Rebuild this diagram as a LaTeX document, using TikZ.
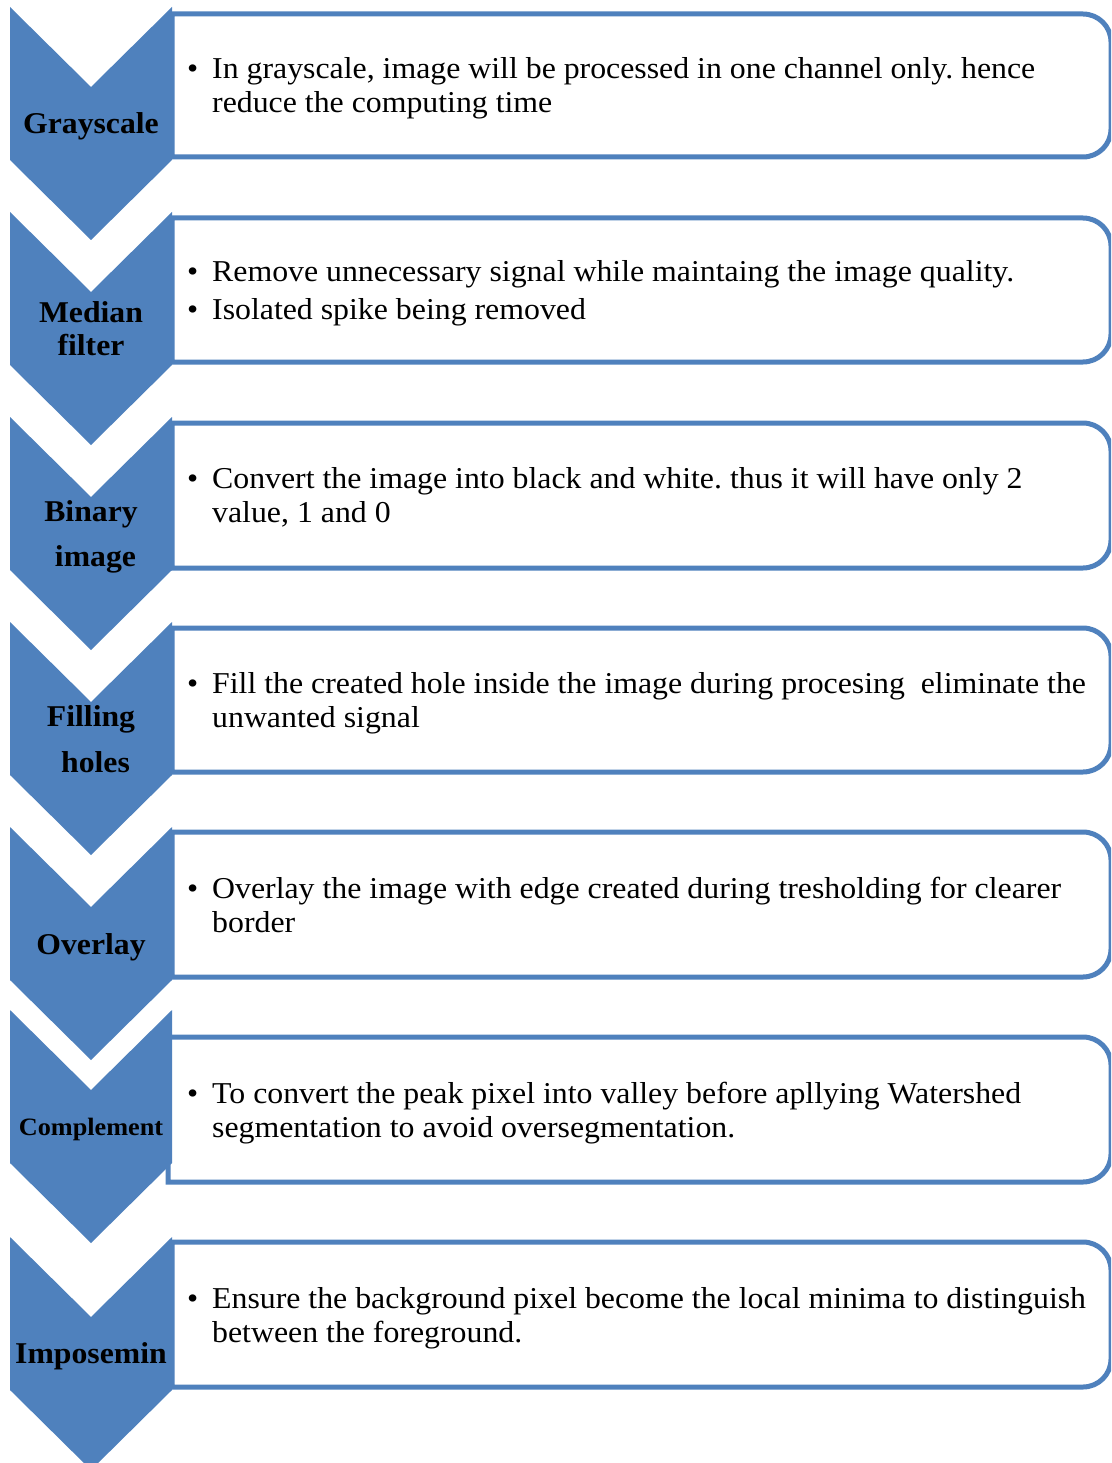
\documentclass[tikz,border=0pt]{standalone}
\usepackage{fontspec}
\setmainfont{Liberation Serif}[FakeStretch=1.05]
\definecolor{STEP-BLUE}{RGB}{79, 129, 189}
\newcommand{\bitem}{\makebox[25pt][l]{\textbullet}}
\newcommand{\bskip}{\hspace*{25pt}}
\frenchspacing

\begin{document}
\begin{tikzpicture}[x=1pt, y=-1pt,
    chevron/.style={fill=STEP-BLUE},
    stepbox/.style={draw=STEP-BLUE, line width=5pt, fill=white},
    steplabel/.style={font=\fontsize{30.2}{33}\selectfont\bfseries, align=center, inner sep=0pt},
    steptext/.style={font=\fontsize{30.3}{34}\selectfont, align=left, anchor=north west, inner sep=0pt}]
  \useasboundingbox (0,0) rectangle (1111,1463);
  \clip (0,0) rectangle (1111,1463);

  % Step 1: grayscale
  \draw[stepbox] (172,157) -- (172,14) -- (1083,14) arc[start angle=-90, end angle=0, radius=28]
    -- (1111,129) arc[start angle=0, end angle=90, radius=28] -- cycle;
  \fill[chevron] (10,7) -- (91,87) -- (172,7) -- (172,160) -- (91,240) -- (10,160) -- cycle;
  \node[steplabel] (grayscale) at (91,126) {Grayscale};
  \node[steptext] (grayscale-txt) at (187,57)
    {\bitem In grayscale, image will be processed in one channel only. hence\\
     \bskip reduce the computing time};

  % Step 2: median filter
  \draw[stepbox] (172,362) -- (172,218) -- (1083,218) arc[start angle=-90, end angle=0, radius=28]
    -- (1111,334) arc[start angle=0, end angle=90, radius=28] -- cycle;
  \fill[chevron] (10,212) -- (91,292) -- (172,212) -- (172,365) -- (91,445) -- (10,365) -- cycle;
  \node[steplabel] (median) at (91,329) {Median\\filter};
  \node[steptext] (median-txt) at (187,260)
    {\bitem Remove unnecessary signal while maintaing the image quality.\\[4pt]
     \bitem Isolated spike being removed};

  % Step 3: binary image
  \draw[stepbox] (172,568) -- (172,423) -- (1083,423) arc[start angle=-90, end angle=0, radius=28]
    -- (1111,540) arc[start angle=0, end angle=90, radius=28] -- cycle;
  \fill[chevron] (10,417) -- (91,497) -- (172,417) -- (172,570) -- (91,650) -- (10,570) -- cycle;
  \node[steplabel] (binary) at (91,537) {Binary\\[12.5pt]\hspace*{9pt}image};
  \node[steptext] (binary-txt) at (187,467)
    {\bitem Convert the image into black and white. thus it will have only 2\\
     \bskip value, 1 and 0};

  % Step 4: filling holes
  \draw[stepbox] (172,772) -- (172,628) -- (1083,628) arc[start angle=-90, end angle=0, radius=28]
    -- (1111,744) arc[start angle=0, end angle=90, radius=28] -- cycle;
  \fill[chevron] (10,622) -- (91,702) -- (172,622) -- (172,775) -- (91,855) -- (10,775) -- cycle;
  \node[steplabel] (filling) at (91,739) {Filling\\[12.5pt]\hspace*{9pt}holes};
  \node[steptext] (filling-txt) at (187,672)
    {\bitem Fill the created hole inside the image during procesing~ eliminate the\\
     \bskip unwanted signal};

  % Step 5: overlay
  \draw[stepbox] (172,977) -- (172,832) -- (1083,832) arc[start angle=-90, end angle=0, radius=28]
    -- (1111,949) arc[start angle=0, end angle=90, radius=28] -- cycle;
  \fill[chevron] (10,827) -- (91,907) -- (172,827) -- (172,980) -- (91,1060) -- (10,980) -- cycle;
  \node[steplabel] (overlay) at (91,947) {Overlay};
  \node[steptext] (overlay-txt) at (187,877)
    {\bitem Overlay the image with edge created during tresholding for clearer\\
     \bskip border};

  % Step 6: complement
  \draw[stepbox] (168,1182) -- (168,1037) -- (1083,1037) arc[start angle=-90, end angle=0, radius=28]
    -- (1111,1154) arc[start angle=0, end angle=90, radius=28] -- cycle;
  \fill[chevron] (10,1010) -- (91,1090) -- (172,1010) -- (172,1163) -- (91,1243) -- (10,1163) -- cycle;
  \node[steplabel, font=\fontsize{25}{30}\selectfont\bfseries] (complement) at (91,1129) {Complement};
  \node[steptext] (complement-txt) at (187,1082)
    {\bitem To convert the peak pixel into valley before apllying Watershed\\
     \bskip segmentation to avoid oversegmentation.};

  % Step 7: imposemin
  \draw[stepbox] (172,1387) -- (172,1242) -- (1083,1242) arc[start angle=-90, end angle=0, radius=28]
    -- (1111,1359) arc[start angle=0, end angle=90, radius=28] -- cycle;
  \fill[chevron] (10,1237) -- (91,1317) -- (172,1237) -- (172,1390) -- (91,1470) -- (10,1390) -- cycle;
  \node[steplabel] (imposemin) at (91,1356) {Imposemin};
  \node[steptext] (imposemin-txt) at (187,1287)
    {\bitem Ensure the background pixel become the local minima to distinguish\\
     \bskip between the foreground.};
\end{tikzpicture}
\end{document}
